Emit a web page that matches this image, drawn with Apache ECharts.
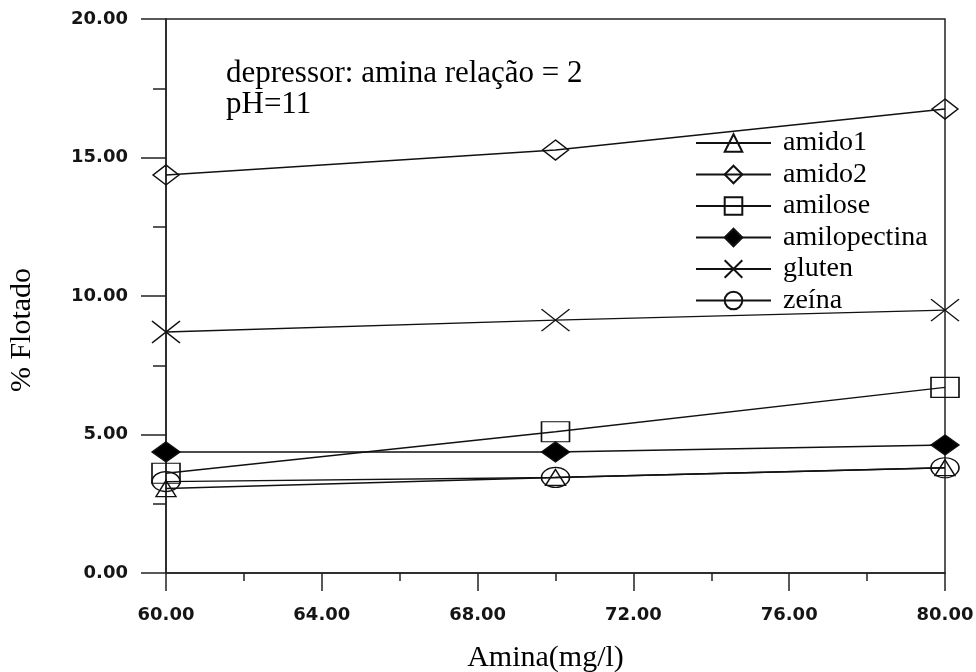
<!DOCTYPE html>
<html>
<head>
<meta charset="utf-8">
<script src="https://cdn.jsdelivr.net/npm/echarts@6/dist/echarts.min.js"></script>
<style>
  html, body { margin: 0; padding: 0; background: #fff; }
  #chart { width: 976px; height: 672px; }
</style>
</head>
<body>
<div id="chart"></div>
<script>
// amina concentration (mg/l)
const amina = [60, 70, 80];

// % flotado per depressor
const amido1 = [3.05, 3.45, 3.8];
const amido2 = [14.37, 15.27, 16.75];
const amilose = [3.6, 5.1, 6.7];
const amilopectina = [4.37, 4.37, 4.62];
const gluten = [8.7, 9.13, 9.49];
const zeina = [3.3, 3.45, 3.8];

const seriesNames = ['amido1', 'amido2', 'amilose', 'amilopectina', 'gluten', 'zeína'];

const crossPath = 'path://M0,0L10,10M10,0L0,10';
const clear = 'rgba(255,255,255,0)';

function pairs(ys) {
  return amina.map((x, i) => [x, ys[i]]);
}

function mkSeries(name, ys, symbol, size, fill) {
  return {
    name: name,
    type: 'line',
    data: pairs(ys),
    symbol: symbol,
    symbolSize: size,
    showAllSymbol: true,
    lineStyle: { color: '#111', width: 1.4 },
    itemStyle: { color: fill, borderColor: '#111', borderWidth: 1.4 },
    emphasis: { disabled: true },
    z: 3
  };
}

const tickFont = { fontFamily: 'DejaVu Sans', fontWeight: 'bold', fontSize: 18, color: '#151515' };

const myChart = echarts.init(document.getElementById('chart'));
myChart.setOption({
  backgroundColor: '#fff',
  animation: false,
  grid: {
    left: 166, right: 31, top: 19, bottom: 99,
    containLabel: false,
    outerBoundsMode: 'none',
    show: true,
    borderColor: '#222',
    borderWidth: 1.5,
    backgroundColor: clear
  },
  legend: {
    data: seriesNames,
    orient: 'vertical',
    left: 695,
    top: 129,
    padding: 0,
    itemWidth: 75,
    itemHeight: 22,
    itemGap: 3.5,
    selectedMode: false,
    textStyle: {
      fontFamily: 'Liberation Serif',
      fontSize: 28,
      color: '#000',
      padding: [0, 0, 0, 7]
    }
  },
  xAxis: {
    type: 'value',
    min: 60, max: 80, interval: 4,
    name: 'Amina(mg/l)',
    nameLocation: 'middle',
    nameGap: 70,
    nameTextStyle: { fontFamily: 'Liberation Serif', fontSize: 30, color: '#000', padding: [0, 20, 0, 0] },
    axisLine: { show: true, lineStyle: { color: '#222', width: 1.5 } },
    axisTick: { show: true, inside: false, length: 18, lineStyle: { color: '#222', width: 1.5 } },
    minorTick: { show: true, splitNumber: 2, length: 8, lineStyle: { color: '#222', width: 1.5 } },
    splitLine: { show: false },
    axisLabel: Object.assign({ margin: 33, formatter: v => v.toFixed(2) }, tickFont)
  },
  yAxis: {
    type: 'value',
    min: 0, max: 20, interval: 5,
    name: '% Flotado',
    nameLocation: 'middle',
    nameGap: 129,
    nameRotate: 90,
    nameTextStyle: { fontFamily: 'Liberation Serif', fontSize: 30, color: '#000', padding: [0, 68, 0, 0] },
    axisLine: { show: true, lineStyle: { color: '#222', width: 1.5 } },
    axisTick: { show: true, inside: false, length: 25, lineStyle: { color: '#222', width: 1.5 } },
    minorTick: { show: true, splitNumber: 2, length: 13, lineStyle: { color: '#222', width: 1.5 } },
    splitLine: { show: false },
    axisLabel: Object.assign({ margin: 38, formatter: v => v.toFixed(2) }, tickFont)
  },
  graphic: [{
    type: 'text',
    left: 226,
    top: 58,
    style: {
      text: 'depressor: amina relação = 2\npH=11',
      font: '31px "Liberation Serif"',
      lineHeight: 31,
      fill: '#000'
    }
  }],
  series: [
    mkSeries('amido1', amido1, 'triangle', [20, 16], clear),
    mkSeries('amido2', amido2, 'diamond', [26, 20], clear),
    mkSeries('amilose', amilose, 'rect', [28, 20], clear),
    mkSeries('amilopectina', amilopectina, 'diamond', [28, 20], '#000'),
    mkSeries('gluten', gluten, crossPath, [28, 22], clear),
    mkSeries('zeína', zeina, 'circle', [28, 20], clear)
  ]
});
</script>
</body>
</html>
